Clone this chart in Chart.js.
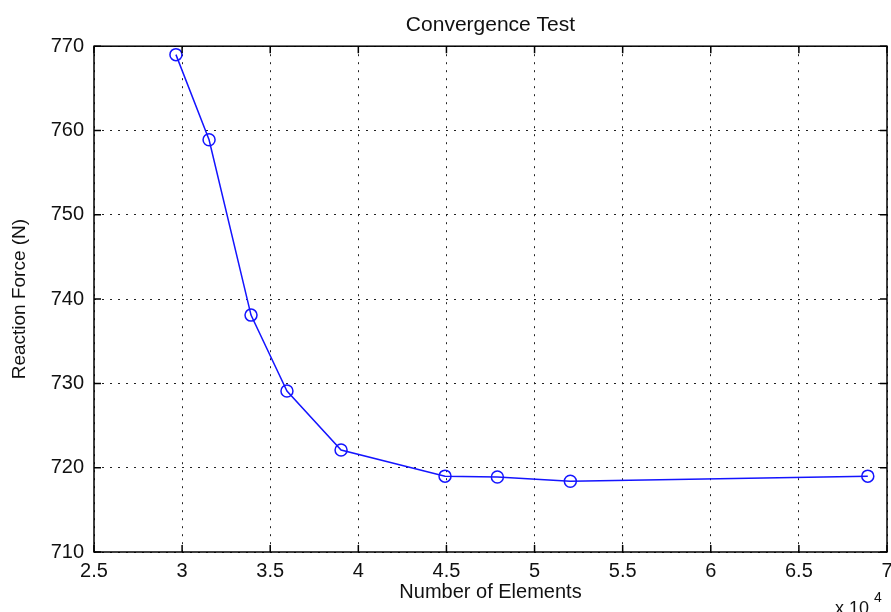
<!DOCTYPE html>
<html>
<head>
<meta charset="utf-8">
<script src="https://cdn.jsdelivr.net/npm/chart.js@4/dist/chart.umd.min.js"></script>
<style>
  html, body { margin: 0; padding: 0; background: #fff; }
  #wrap { width: 891px; height: 612px; }
</style>
</head>
<body>
<div id="wrap"><canvas id="c" width="891" height="612"></canvas></div>
<script>
// ---- data ----
const elementCounts = [29650, 31530, 33910, 35950, 39020, 44920, 47890, 52030, 68910];
const reactionForce = [769.0, 758.9, 738.1, 729.1, 722.1, 719.0, 718.9, 718.4, 719.0];
const xTickValues = [25000, 30000, 35000, 40000, 45000, 50000, 55000, 60000, 65000, 70000];
const yTickValues = [710, 720, 730, 740, 750, 760, 770];
const titleText = 'Convergence Test';
const xLabel = 'Number of Elements';
const yLabel = 'Reaction Force (N)';
const xExponentBase = 'x 10';
const xExponent = '4';

const FONT = '"Liberation Sans", Arial, Helvetica, sans-serif';

const points = elementCounts.map((x, i) => ({ x: x, y: reactionForce[i] }));

const boxPlugin = {
  id: 'boxPlugin',
  afterDraw(chart) {
    const { ctx, chartArea: a, scales: { x, y } } = chart;
    ctx.save();
    ctx.strokeStyle = '#000';
    ctx.lineWidth = 1.5;
    ctx.setLineDash([]);
    ctx.strokeRect(a.left, a.top, a.right - a.left, a.bottom - a.top);
    const L = 7;
    ctx.beginPath();
    xTickValues.forEach(v => {
      const px = x.getPixelForValue(v);
      ctx.moveTo(px, a.bottom); ctx.lineTo(px, a.bottom - L);
      ctx.moveTo(px, a.top); ctx.lineTo(px, a.top + L);
    });
    yTickValues.forEach(v => {
      const py = y.getPixelForValue(v);
      ctx.moveTo(a.left, py); ctx.lineTo(a.left + L, py);
      ctx.moveTo(a.right, py); ctx.lineTo(a.right - L, py);
    });
    ctx.stroke();
    // exponent label
    ctx.fillStyle = '#111';
    ctx.textBaseline = 'alphabetic';
    ctx.textAlign = 'left';
    ctx.font = '18px ' + FONT;
    ctx.fillText(xExponentBase, 835, 614);
    ctx.font = '14px ' + FONT;
    ctx.fillText(xExponent, 874, 602);
    ctx.restore();
  }
};

new Chart(document.getElementById('c'), {
  type: 'line',
  data: {
    datasets: [{
      data: points,
      borderColor: '#1414ff',
      borderWidth: 1.5,
      backgroundColor: 'rgba(0,0,0,0)',
      pointStyle: 'circle',
      pointRadius: 6,
      pointBorderWidth: 1.5,
      pointBorderColor: '#1414ff',
      pointBackgroundColor: 'rgba(0,0,0,0)',
      tension: 0,
      fill: false,
      clip: false
    }]
  },
  options: {
    responsive: false,
    animation: false,
    devicePixelRatio: 1,
    layout: { autoPadding: false, padding: { left: 0, right: 4, top: 0, bottom: 0 } },
    plugins: {
      legend: { display: false },
      tooltip: { enabled: false },
      title: {
        display: true,
        text: titleText,
        fullSize: false,
        color: '#111',
        font: { family: FONT, size: 21, weight: 'normal', lineHeight: 1.2 },
        padding: { top: 13, bottom: 8 }
      }
    },
    scales: {
      x: {
        type: 'linear',
        min: 25000,
        max: 70000,
        afterBuildTicks(scale) { scale.ticks = xTickValues.map(v => ({ value: v })); },
        afterFit(scale) { scale.height = 60; scale.paddingLeft = 0; scale.paddingRight = 0; },
        ticks: {
          color: '#111',
          padding: 7,
          maxRotation: 0,
          autoSkip: false,
          font: { family: FONT, size: 20 },
          callback: v => String(v / 10000)
        },
        grid: { color: '#222', lineWidth: 1, drawTicks: false },
        border: { display: false, dash: [2, 6] },
        title: {
          display: true,
          text: xLabel,
          color: '#111',
          font: { family: FONT, size: 20, lineHeight: 1.2 },
          padding: { top: 0, bottom: 8 }
        }
      },
      y: {
        type: 'linear',
        min: 710,
        max: 770,
        afterBuildTicks(scale) { scale.ticks = yTickValues.map(v => ({ value: v })); },
        afterFit(scale) { scale.width = 94; scale.paddingTop = 0; scale.paddingBottom = 0; },
        ticks: {
          color: '#111',
          padding: 10,
          autoSkip: false,
          font: { family: FONT, size: 20 },
          callback: v => String(v)
        },
        grid: { color: '#222', lineWidth: 1, drawTicks: false },
        border: { display: false, dash: [2, 6] },
        title: {
          display: true,
          text: yLabel,
          color: '#111',
          font: { family: FONT, size: 19, lineHeight: 1.2 },
          padding: { top: 8, bottom: 0 }
        }
      }
    }
  },
  plugins: [boxPlugin]
});
</script>
</body>
</html>
